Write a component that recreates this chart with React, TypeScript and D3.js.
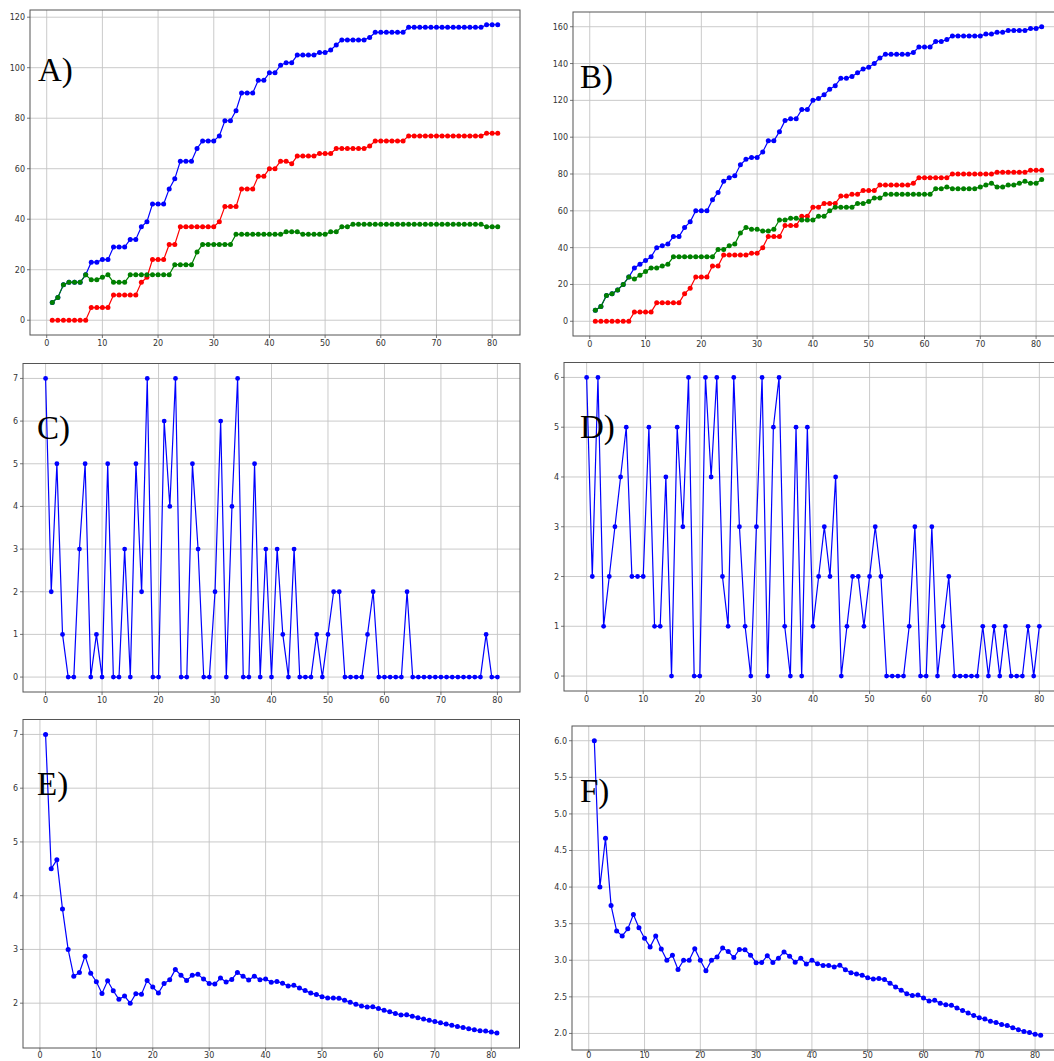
import React from "react";
import * as d3 from "d3";

// ---------- DATA ----------
const xsCum = d3.range(1, 82); // 1..81
const xsInc = d3.range(0, 81); // 0..80

const aBlue = [7,9,14,15,15,15,18,23,23,24,24,29,29,29,32,32,37,39,46,46,46,52,56,63,63,63,68,71,71,71,73,79,79,83,90,90,90,95,95,98,98,101,102,102,105,105,105,105,106,106,107,109,111,111,111,111,111,112,114,114,114,114,114,114,116,116,116,116,116,116,116,116,116,116,116,116,116,116,117,117,117];
const aRed = [0,0,0,0,0,0,0,5,5,5,5,10,10,10,10,10,15,17,24,24,24,30,30,37,37,37,37,37,37,37,39,45,45,45,52,52,52,57,57,60,60,63,63,62,65,65,65,65,66,66,66,68,68,68,68,68,68,69,71,71,71,71,71,71,73,73,73,73,73,73,73,73,73,73,73,73,73,73,74,74,74];
const aGreen = [7,9,14,15,15,15,18,16,16,17,18,15,15,15,18,18,18,18,18,18,18,18,22,22,22,22,27,30,30,30,30,30,30,34,34,34,34,34,34,34,34,34,35,35,35,34,34,34,34,34,35,35,37,37,38,38,38,38,38,38,38,38,38,38,38,38,38,38,38,38,38,38,38,38,38,38,38,38,37,37,37];

const bBlue = [6,8,14,15,17,20,24,29,31,33,35,40,41,42,46,46,51,54,60,60,60,66,70,76,78,79,85,88,89,89,92,98,98,103,109,110,110,115,115,120,121,123,126,128,132,132,133,135,137,138,140,143,145,145,145,145,145,146,149,149,149,152,152,153,155,155,155,155,155,155,156,156,157,157,158,158,158,158,159,159,160];
const bRed = [0,0,0,0,0,0,0,5,5,5,5,10,10,10,10,10,15,18,24,24,24,30,30,36,36,36,36,36,37,37,40,46,46,46,52,52,52,57,57,62,62,64,64,64,68,68,69,69,71,71,71,74,74,74,74,74,74,75,78,78,78,78,78,78,80,80,80,80,80,80,80,80,81,81,81,81,81,81,82,82,82];
const bGreen = [6,8,14,15,17,20,24,23,25,27,29,29,30,31,35,35,35,35,35,35,35,35,39,39,41,42,48,51,50,50,49,49,50,55,55,56,56,55,55,55,57,57,60,62,62,62,62,64,64,65,67,67,69,69,69,69,69,69,69,69,69,72,72,73,72,72,72,72,72,73,74,75,73,73,74,74,75,76,75,75,77];

const cVals = [7,2,5,1,0,0,3,5,0,1,0,5,0,0,3,0,5,2,7,0,0,6,4,7,0,0,5,3,0,0,2,6,0,4,7,0,0,5,0,3,0,3,1,0,3,0,0,0,1,0,1,2,2,0,0,0,0,1,2,0,0,0,0,0,2,0,0,0,0,0,0,0,0,0,0,0,0,0,1,0,0];
const dVals = [6,2,6,1,2,3,4,5,2,2,2,5,1,1,4,0,5,3,6,0,0,6,4,6,2,1,6,3,1,0,3,6,0,5,6,1,0,5,0,5,1,2,3,2,4,0,1,2,2,1,2,3,2,0,0,0,0,1,3,0,0,3,0,1,2,0,0,0,0,0,1,0,1,0,1,0,0,0,1,0,1];

const eVals = [7,4.5,4.667,3.75,3,2.5,2.571,2.875,2.556,2.4,2.182,2.417,2.231,2.071,2.133,2.0,2.176,2.167,2.421,2.3,2.19,2.364,2.435,2.625,2.52,2.423,2.519,2.536,2.448,2.367,2.355,2.469,2.394,2.441,2.571,2.5,2.432,2.5,2.436,2.45,2.39,2.405,2.372,2.318,2.333,2.283,2.234,2.188,2.163,2.12,2.098,2.096,2.094,2.056,2.018,1.982,1.947,1.931,1.932,1.9,1.869,1.839,1.81,1.781,1.785,1.758,1.731,1.706,1.681,1.657,1.634,1.611,1.589,1.568,1.547,1.526,1.506,1.487,1.481,1.463,1.444];
const fVals = [6,4,4.667,3.75,3.4,3.333,3.429,3.625,3.444,3.3,3.182,3.333,3.154,3.0,3.067,2.875,3.0,3.0,3.158,3.0,2.857,3.0,3.043,3.167,3.12,3.038,3.148,3.143,3.069,2.967,2.968,3.063,2.97,3.029,3.114,3.056,2.973,3.026,2.949,3.0,2.951,2.929,2.93,2.909,2.933,2.87,2.83,2.813,2.796,2.76,2.745,2.75,2.736,2.685,2.636,2.589,2.544,2.517,2.525,2.483,2.443,2.452,2.413,2.391,2.385,2.348,2.313,2.279,2.246,2.214,2.197,2.167,2.151,2.122,2.107,2.079,2.052,2.026,2.013,1.988,1.975];

const xTickVals = [0,10,20,30,40,50,60,70,80];
const aYTicks = [0,20,40,60,80,100,120];
const bYTicks = [0,20,40,60,80,100,120,140,160];
const cYTicks = [0,1,2,3,4,5,6,7];
const dYTicks = [0,1,2,3,4,5,6];
const eYTicks = [2,3,4,5,6,7];
const fYTicks = [2.0,2.5,3.0,3.5,4.0,4.5,5.0,5.5,6.0];

const BLUE = "#0000ff", RED = "#ff0000", GREEN = "#008000";

type Series = { values: number[]; color: string };
type Box = { left: number; right: number; top: number; bottom: number };

function padded(ext: [number, number]): [number, number] {
  const m = (ext[1] - ext[0]) * 0.05;
  return [ext[0] - m, ext[1] + m];
}

function Panel(props: {
  id: string; box: Box; xs: number[]; series: Series[]; yTicks: number[];
  yFmt: (v: number) => string; label: string; lx: number; ly: number; r: number; xLabY: number;
}) {
  const { id, box, xs, series, yTicks, yFmt, label, lx, ly, r, xLabY } = props;
  const xDom = padded(d3.extent(xs) as [number, number]);
  const allY = series.flatMap((s) => s.values);
  const yDom = padded(d3.extent(allY) as [number, number]);
  const x = d3.scaleLinear().domain(xDom).range([box.left, box.right]);
  const y = d3.scaleLinear().domain(yDom).range([box.bottom, box.top]);
  const line = d3.line<number>().x((_, i) => x(xs[i])).y((v) => y(v));
  return (
    <g>
      <defs>
        <clipPath id={"clip" + id}>
          <rect x={box.left} y={box.top} width={box.right - box.left} height={box.bottom - box.top} />
        </clipPath>
      </defs>
      <g stroke="#c4c4c4" strokeWidth={0.9}>
        {xTickVals.map((t) => (
          <line key={"gx" + t} x1={x(t)} x2={x(t)} y1={box.top} y2={box.bottom} />
        ))}
        {yTicks.map((t) => (
          <line key={"gy" + t} x1={box.left} x2={box.right} y1={y(t)} y2={y(t)} />
        ))}
      </g>
      <g clipPath={`url(#clip${id})`}>
        {series.map((s, si) => (
          <g key={si}>
            <path d={line(s.values) || ""} fill="none" stroke={s.color} strokeWidth={1.2} />
            {s.values.map((v, i) => (
              <circle key={i} cx={x(xs[i])} cy={y(v)} r={r} fill={s.color} />
            ))}
          </g>
        ))}
      </g>
      <rect x={box.left} y={box.top} width={box.right - box.left} height={box.bottom - box.top}
        fill="none" stroke="#555" strokeWidth={1} />
      <g stroke="#555" strokeWidth={0.8}>
        {xTickVals.map((t) => (
          <line key={"tx" + t} x1={x(t)} x2={x(t)} y1={box.bottom} y2={box.bottom + 3} />
        ))}
        {yTicks.map((t) => (
          <line key={"ty" + t} x1={box.left - 3} x2={box.left} y1={y(t)} y2={y(t)} />
        ))}
      </g>
      <g fontFamily="DejaVu Sans" fontSize={8} fill="#333">
        {xTickVals.map((t) => (
          <text key={"lx" + t} x={x(t)} y={xLabY} textAnchor="middle">{t}</text>
        ))}
        {yTicks.map((t) => (
          <text key={"ly" + t} x={box.left - 5} y={y(t) + 3} textAnchor="end">{yFmt(t)}</text>
        ))}
      </g>
      <text x={lx} y={ly} fontFamily="Liberation Serif" fontSize={33} fill="#000">{label}</text>
    </g>
  );
}

export default function App() {
  const intF = (v: number) => String(v);
  const decF = d3.format(".1f");
  return (
    <svg width={1054} height={1061} style={{ position: "absolute", left: 0, top: 0, background: "#fff" }}>
      <rect width={1054} height={1061} fill="#fff" />
      <Panel id="A" box={{ left: 30, right: 520, top: 10, bottom: 335 }} xs={xsCum}
        series={[{ values: aBlue, color: BLUE }, { values: aRed, color: RED }, { values: aGreen, color: GREEN }]}
        yTicks={aYTicks} yFmt={intF} label="A)" lx={38} ly={81} r={2.5} xLabY={346} />
      <Panel id="B" box={{ left: 573, right: 1064, top: 12, bottom: 336 }} xs={xsCum}
        series={[{ values: bBlue, color: BLUE }, { values: bRed, color: RED }, { values: bGreen, color: GREEN }]}
        yTicks={bYTicks} yFmt={intF} label="B)" lx={580} ly={88} r={2.5} xLabY={347} />
      <Panel id="C" box={{ left: 23, right: 520, top: 363.5, bottom: 692 }} xs={xsInc}
        series={[{ values: cVals, color: BLUE }]}
        yTicks={cYTicks} yFmt={intF} label="C)" lx={37} ly={439} r={2.4} xLabY={703} />
      <Panel id="D" box={{ left: 564, right: 1062, top: 362.5, bottom: 691 }} xs={xsInc}
        series={[{ values: dVals, color: BLUE }]}
        yTicks={dYTicks} yFmt={intF} label="D)" lx={580} ly={438} r={2.4} xLabY={702} />
      <Panel id="E" box={{ left: 23, right: 519.5, top: 719.5, bottom: 1048 }} xs={xsCum}
        series={[{ values: eVals, color: BLUE }]}
        yTicks={eYTicks} yFmt={intF} label="E)" lx={37} ly={795} r={2.5} xLabY={1058} />
      <Panel id="F" box={{ left: 572, right: 1063, top: 726, bottom: 1050 }} xs={xsCum}
        series={[{ values: fVals, color: BLUE }]}
        yTicks={fYTicks} yFmt={decF} label="F)" lx={580} ly={802} r={2.5} xLabY={1058} />
    </svg>
  );
}
